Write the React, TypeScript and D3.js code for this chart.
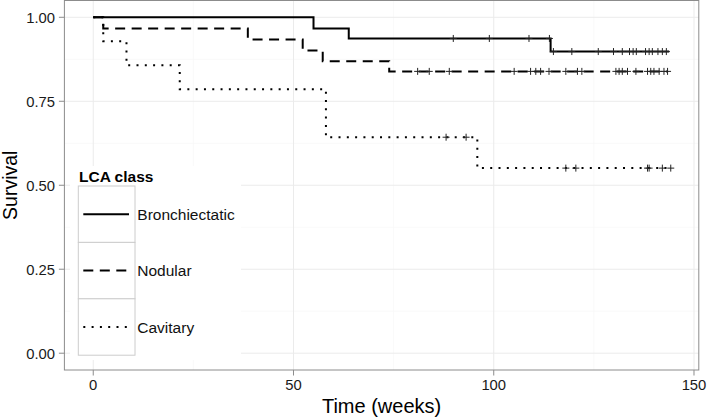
import React from "react";
import * as d3 from "d3";

const W = 709;
const H = 418;

const seriesNames = ["Bronchiectatic", "Nodular", "Cavitary"];

const bronchTimes = [0, 55, 63.8, 114.2];
const bronchSurv = [1.0, 0.967, 0.937, 0.898];
const bronchEnd = 143.8;
const bronchCensor = [89.9, 98.9, 108.8, 113.9, 114.9, 119.5, 126.1, 129.9, 132.1, 133.9, 134.8, 135.6, 137.9, 138.8, 139.6, 141.0, 142.1, 143.1];

const nodTimes = [0, 2.5, 38.6, 52.3, 57.3, 73.9];
const nodSurv = [1.0, 0.967, 0.934, 0.901, 0.869, 0.839];
const nodEnd = 143.5;
const nodCensor = [81.0, 83.9, 88.9, 105.1, 109.2, 110.5, 111.7, 113.8, 118.0, 120.9, 122.0, 130.5, 131.3, 132.1, 133.4, 135.5, 138.4, 139.2, 140.0, 141.3, 142.5, 143.4];

const cavTimes = [0, 2.5, 8.3, 21.6, 58.1, 95.9];
const cavSurv = [1.0, 0.929, 0.857, 0.786, 0.643, 0.551];
const cavEnd = 144.2;
const cavCensor = [88.1, 93.1, 118.0, 120.5, 138.4, 138.8, 142.1, 144.2];

const xTicks = [0, 50, 100, 150];
const yTicks = [0, 0.25, 0.5, 0.75, 1.0];
const xMinor = [25, 75, 125];
const yMinor = [0.125, 0.375, 0.625, 0.875];

const FONT = "'Liberation Sans', Arial, Helvetica, sans-serif";

export default function App() {
  const left = 64.4;
  const right = 698.8;
  const top = 0.5;
  const bottom = 370;

  const x = d3.scaleLinear().domain([-7.2, 151.2]).range([left, right]);
  const y = d3.scaleLinear().domain([-0.05, 1.05]).range([bottom, top]);

  const line = d3
    .line<[number, number]>()
    .x((d) => x(d[0]))
    .y((d) => y(d[1]))
    .curve(d3.curveStepAfter);

  const mk = (times: number[], surv: number[], end: number) => {
    const pts: [number, number][] = times.map((t, i) => [t, surv[i]]);
    pts.push([end, surv[surv.length - 1]]);
    return pts;
  };
  const survAt = (times: number[], surv: number[], t: number) => {
    let v = surv[0];
    for (let i = 0; i < times.length; i++) if (times[i] <= t) v = surv[i];
    return v;
  };

  const series = [
    { name: seriesNames[0], times: bronchTimes, surv: bronchSurv, end: bronchEnd, censor: bronchCensor, dash: "none" },
    { name: seriesNames[1], times: nodTimes, surv: nodSurv, end: nodEnd, censor: nodCensor, dash: "10,6.5" },
    { name: seriesNames[2], times: cavTimes, surv: cavSurv, end: cavEnd, censor: cavCensor, dash: "2,6.3" },
  ];

  const legX = 78.3;
  const legY = 186;
  const keyW = 56.7;
  const keyH = 56.4;

  return (
    <svg width={W} height={H} style={{ position: "absolute", left: 0, top: 0, background: "#fff" }} fontFamily={FONT}>
      <rect x={0} y={0} width={W} height={H} fill="#fff" />
      {/* grid */}
      {xMinor.map((t) => (
        <line key={"xm" + t} x1={x(t)} x2={x(t)} y1={top} y2={bottom} stroke="#f7f7f7" strokeWidth={0.8} />
      ))}
      {yMinor.map((t) => (
        <line key={"ym" + t} x1={left} x2={right} y1={y(t)} y2={y(t)} stroke="#f7f7f7" strokeWidth={0.8} />
      ))}
      {xTicks.map((t) => (
        <line key={"xg" + t} x1={x(t)} x2={x(t)} y1={top} y2={bottom} stroke="#ebebeb" strokeWidth={1} />
      ))}
      {yTicks.map((t) => (
        <line key={"yg" + t} x1={left} x2={right} y1={y(t)} y2={y(t)} stroke="#ebebeb" strokeWidth={1} />
      ))}

      {/* curves */}
      {series.map((s) => (
        <path
          key={s.name}
          d={line(mk(s.times, s.surv, s.end)) || ""}
          fill="none"
          stroke="#000"
          strokeWidth={2}
          strokeDasharray={s.dash}
        />
      ))}
      {/* censor marks */}
      {series.map((s) =>
        s.censor.map((t, i) => {
          const cx = x(t);
          const cy = y(survAt(s.times, s.surv, t));
          return (
            <g key={s.name + i} stroke="#222" strokeWidth={1}>
              <line x1={cx} x2={cx} y1={cy - 3.5} y2={cy + 3.5} />
              <line x1={cx - 3.5} x2={cx + 3.5} y1={cy} y2={cy} />
            </g>
          );
        })
      )}

      {/* legend */}
      <rect x={70} y={166} width={171} height={194} fill="#fff" />
      <text x={79} y={182} fontSize={15.5} fontWeight="bold" fill="#000">
        LCA class
      </text>
      {series.map((s, i) => {
        const ky = legY + i * keyH;
        return (
          <g key={"leg" + s.name}>
            <rect x={legX} y={ky} width={keyW} height={keyH} fill="#fff" stroke="#cccccc" strokeWidth={1} />
            <line
              x1={legX + 5}
              x2={legX + keyW - 6}
              y1={ky + keyH / 2}
              y2={ky + keyH / 2}
              stroke="#000"
              strokeWidth={2}
              strokeDasharray={s.dash}
            />
            <text x={137.3} y={ky + keyH / 2} dy="0.36em" fontSize={15.5} fill="#111">
              {s.name}
            </text>
          </g>
        );
      })}

      {/* panel border */}
      <rect x={left} y={top} width={right - left} height={bottom - top} fill="none" stroke="#8c8c8c" strokeWidth={1} />

      {/* axes */}
      {yTicks.map((t) => (
        <g key={"yt" + t}>
          <line x1={left - 5.5} x2={left} y1={y(t)} y2={y(t)} stroke="#8c8c8c" strokeWidth={1} />
          <text x={55} y={y(t)} dy="0.36em" textAnchor="end" fontSize={14.8} fill="#1a1a1a">
            {d3.format(".2f")(t)}
          </text>
        </g>
      ))}
      {xTicks.map((t) => (
        <g key={"xt" + t}>
          <line x1={x(t)} x2={x(t)} y1={bottom} y2={bottom + 5.5} stroke="#8c8c8c" strokeWidth={1} />
          <text x={x(t)} y={389.5} textAnchor="middle" fontSize={14.8} fill="#1a1a1a">
            {t}
          </text>
        </g>
      ))}
      <text x={(left + right) / 2} y={413} textAnchor="middle" fontSize={20} fill="#000">
        Time (weeks)
      </text>
      <text
        transform={`translate(17,${(top + bottom) / 2}) rotate(-90)`}
        textAnchor="middle"
        fontSize={19.5}
        fill="#000"
      >
        Survival
      </text>
    </svg>
  );
}
